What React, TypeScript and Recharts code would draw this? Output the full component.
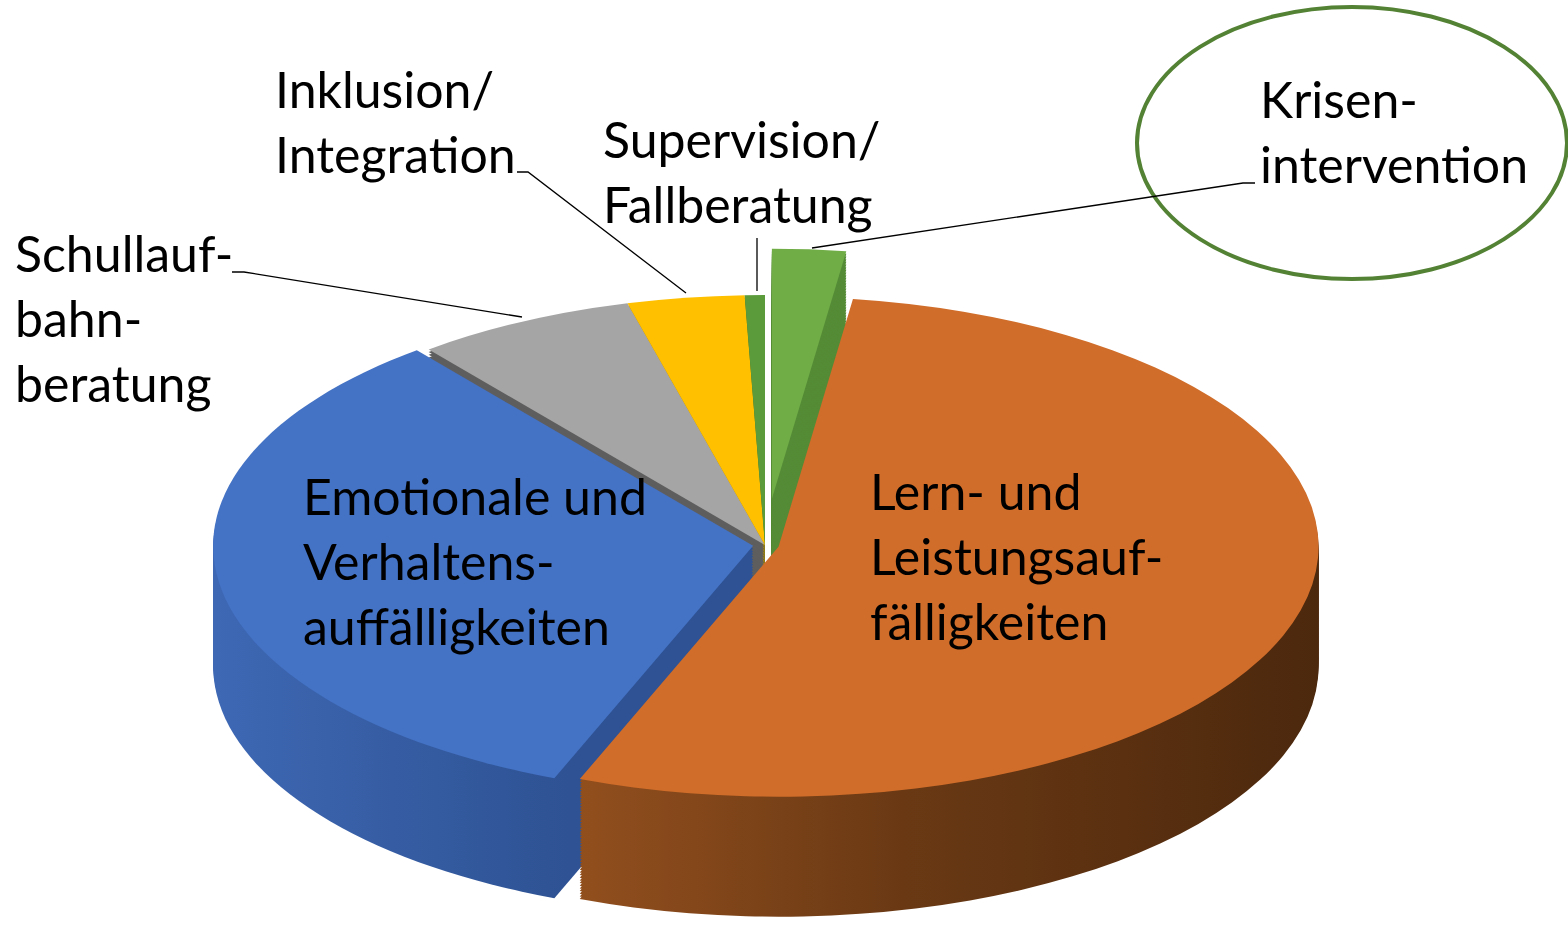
import { PieChart, Pie, Cell } from "recharts";

// clockwise from 12 o'clock, shares in percent
const categories = [
  "Krisenintervention",
  "Lern- und Leistungsauffälligkeiten",
  "Emotionale und Verhaltensauffälligkeiten",
  "Schullaufbahnberatung",
  "Inklusion/Integration",
  "Supervision/Fallberatung",
];
const shares = [2.2, 53.8, 33.3, 6.6, 3.5, 0.6];

const TOP_COLORS = ["#70AD47", "#D06D2A", "#4472C4", "#A5A5A5", "#FFC000", "#5B9B3C"];
const SIDE_COLORS = ["#558B36", "url(#sideOrange)", "url(#sideBlue)", "#5E5E5E", "#B38800", "#3F6E27"];
const EXPLODE = [100, 14, 12, 0, 0, 0];

const W = 1568;
const H = 927;
const SQUASH = 250 / 540;
const CX = 765;
const CY = 545 / SQUASH;
const R = 540;
const DEPTH = 120 / SQUASH;
const LAYERS = 45;

const data = categories.map((name, i) => ({ name, value: shares[i] }));
const total = shares.reduce((a, b) => a + b, 0);

// one group per exploded slice, the rest share one pie
const groups: number[][] = [];
const rest: number[] = [];
shares.forEach((_, i) => (EXPLODE[i] > 0 ? groups.push([i]) : rest.push(i)));
groups.push(rest);

const groupOffset = (g: number[]) => {
  const i = g[0];
  const e = EXPLODE[i];
  if (!e || g.length > 1) return { dx: 0, dy: 0 };
  const before = shares.slice(0, i).reduce((a, b) => a + b, 0);
  const mid = ((before + shares[i] / 2) / total) * Math.PI * 2;
  return { dx: e * Math.sin(mid), dy: -e * Math.cos(mid) };
};

const layerDepths: number[] = [];
for (let k = LAYERS; k >= 1; k--) layerDepths.push((DEPTH * k) / LAYERS);

const labels = [
  { lines: ["Inklusion/", "Integration"], x: 275, y: 108 },
  { lines: ["Supervision/", "Fallberatung"], x: 603, y: 158 },
  { lines: ["Krisen-", "intervention"], x: 1260, y: 118 },
  { lines: ["Schullauf-", "bahn-", "beratung"], x: 15, y: 272 },
  { lines: ["Emotionale und", "Verhaltens-", "auffälligkeiten"], x: 303, y: 515 },
  { lines: ["Lern- und", "Leistungsauf-", "fälligkeiten"], x: 870, y: 510 },
];

const leaders = [
  "M1255,183 L1243,183 L812,248",
  "M757,238 L757,291",
  "M517,172 L528,172 L686,293",
  "M232,272 L244,272 L522,317",
];

const renderPie = (g: number[], depth: number, colors: string[], key: string) => {
  const { dx, dy } = groupOffset(g);
  return (
    <Pie
      key={key}
      data={data}
      dataKey="value"
      cx={CX + dx}
      cy={CY + dy + depth}
      innerRadius={0}
      outerRadius={R}
      startAngle={90}
      endAngle={-270}
      stroke="none"
      isAnimationActive={false}
    >
      {data.map((_, i) => (
        <Cell key={`c-${i}`} fill={g.includes(i) ? colors[i] : "none"} />
      ))}
    </Pie>
  );
};

export default function App() {
  return (
    <div
      style={{
        position: "absolute",
        left: 0,
        top: 0,
        width: W,
        height: H,
        overflow: "hidden",
        background: "#fff",
      }}
    >
      <div style={{ transform: `scaleY(${SQUASH})`, transformOrigin: "0 0" }}>
        <PieChart width={W} height={H / SQUASH} margin={{ top: 0, right: 0, bottom: 0, left: 0 }}>
          <defs>
            <linearGradient id="sideOrange" gradientUnits="userSpaceOnUse" x1={560} y1={0} x2={1320} y2={0}>
              <stop offset="0%" stopColor="#94501E" />
              <stop offset="45%" stopColor="#6A3914" />
              <stop offset="100%" stopColor="#4C280D" />
            </linearGradient>
            <linearGradient id="sideBlue" gradientUnits="userSpaceOnUse" x1={215} y1={0} x2={570} y2={0}>
              <stop offset="0%" stopColor="#3E68B4" />
              <stop offset="100%" stopColor="#2E5293" />
            </linearGradient>
          </defs>
          {layerDepths.flatMap((d, k) =>
            groups.map((g, gi) => renderPie(g, d, SIDE_COLORS, `side-${k}-${gi}`))
          )}
          {groups.map((g, gi) => renderPie(g, 0, TOP_COLORS, `top-${gi}`))}
        </PieChart>
      </div>
      <svg
        width={W}
        height={H}
        style={{ position: "absolute", left: 0, top: 0 }}
        fontFamily="Lato, 'Open Sans', sans-serif"
      >
        <ellipse cx={1352} cy={143} rx={215} ry={136} fill="none" stroke="#548235" strokeWidth={4} />
        {leaders.map((d, i) => (
          <path key={i} d={d} fill="none" stroke="#000" strokeWidth={1.3} />
        ))}
        {labels.map((l, i) => (
          <text key={i} x={l.x} y={l.y} fontSize={50} fill="#000">
            {l.lines.map((t, j) => (
              <tspan key={j} x={l.x} y={l.y + j * 65}>
                {t}
              </tspan>
            ))}
          </text>
        ))}
      </svg>
    </div>
  );
}
